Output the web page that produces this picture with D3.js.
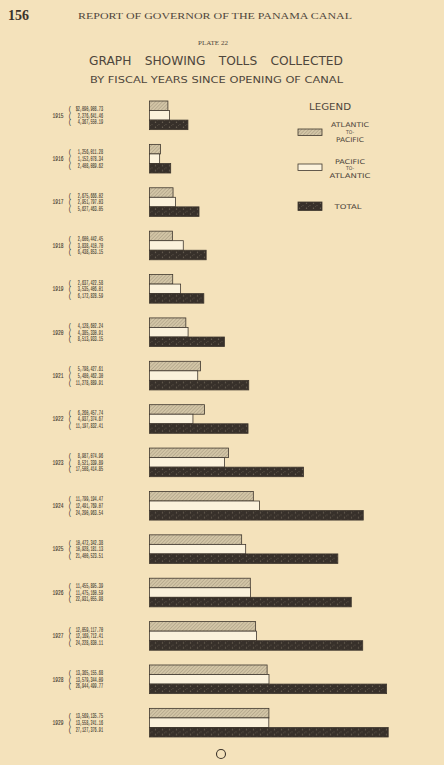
<html>
<head>
  <title>Tolls collected</title>
  <style>
    body { margin: 0; background: #f4e2bb; }
    svg { display: block; }
  </style>
</head>
<body>
<script src="https://cdn.jsdelivr.net/npm/d3@7/dist/d3.min.js"></script>
<script>
var years = [1915, 1916, 1917, 1918, 1919, 1920, 1921, 1922, 1923, 1924, 1925, 1926, 1927, 1928, 1929]
var atlanticToPacific = [2090908.73, 1256011.28, 2675666.02, 2600442.45, 2637422.58, 4128602.24, 5798427.61, 6260457.74, 8987074.96, 11799194.47, 10472342.38, 11455895.39, 12059117.70, 13365155.68, 13569135.75]
var pacificToAtlantic = [2276641.46, 1152078.34, 2951797.03, 3838410.70, 3535406.01, 4385330.91, 5480462.30, 4937374.67, 8521339.89, 12491769.07, 10928181.13, 11475160.59, 12169712.41, 13579344.09, 13558241.16]
var total = [4367550.19, 2408089.62, 5627463.05, 6438853.15, 6172828.59, 8513933.15, 11278889.91, 11197832.41, 17508414.85, 24290963.54, 21400523.51, 22931055.98, 24228830.11, 26944499.77, 27127376.91]
var seriesKeys = ['atl', 'pac', 'tot']
var legendLabels = [['ATLANTIC', 'TO-', 'PACIFIC'], ['PACIFIC', 'TO-', 'ATLANTIC'], ['TOTAL']]

var width = 444
var height = 765

var svg = d3.select('body').append('svg')
  .attr('width', width)
  .attr('height', height)

// paper
svg.append('rect').attr('width', width).attr('height', height).attr('fill', '#f4e2bb')

var defs = svg.append('defs')
var hatch = defs.append('pattern')
  .attr('id', 'hatch').attr('patternUnits', 'userSpaceOnUse')
  .attr('width', 2.5).attr('height', 2.5)
  .attr('patternTransform', 'rotate(45)')
hatch.append('rect').attr('width', 2.5).attr('height', 2.5).attr('fill', '#d2c5a6')
hatch.append('line').attr('x1', 0).attr('y1', 0).attr('x2', 0).attr('y2', 2.5)
  .attr('stroke', '#9e917a').attr('stroke-width', 0.9)

var dark = defs.append('pattern')
  .attr('id', 'dark').attr('patternUnits', 'userSpaceOnUse')
  .attr('width', 7).attr('height', 5)
dark.append('rect').attr('width', 7).attr('height', 5).attr('fill', '#37302a')
dark.append('circle').attr('cx', 1.5).attr('cy', 1.2).attr('r', 0.7).attr('fill', '#6e6456')
dark.append('circle').attr('cx', 5).attr('cy', 3.6).attr('r', 0.6).attr('fill', '#5f564a')
dark.append('circle').attr('cx', 3.4).attr('cy', 4.4).attr('r', 0.4).attr('fill', '#786e5f')

var fills = { atl: 'url(#hatch)', pac: '#fbf2dc', tot: 'url(#dark)' }

// header
svg.append('text').attr('x', 8).attr('y', 20)
  .attr('font-family', 'Liberation Serif').attr('font-weight', 'bold')
  .attr('font-size', 14).attr('fill', '#3c342b').text('156')
svg.append('text').attr('x', 78).attr('y', 19)
  .attr('font-family', 'Liberation Serif').attr('font-size', 9)
  .attr('textLength', 274).attr('lengthAdjust', 'spacingAndGlyphs')
  .attr('fill', '#4f463b').text('REPORT OF GOVERNOR OF THE PANAMA CANAL')
svg.append('text').attr('x', 213).attr('y', 45).attr('text-anchor', 'middle')
  .attr('font-family', 'Liberation Serif').attr('font-size', 7)
  .attr('textLength', 30).attr('lengthAdjust', 'spacingAndGlyphs')
  .attr('fill', '#4f463b').text('PLATE 22')
svg.append('text').attr('x', 89).attr('y', 65)
  .attr('font-family', 'DejaVu Sans').attr('font-size', 13)
  .attr('textLength', 254).attr('lengthAdjust', 'spacingAndGlyphs')
  .attr('fill', '#4e463c').attr('word-spacing', 10).text('GRAPH   SHOWING   TOLLS   COLLECTED')
svg.append('text').attr('x', 90).attr('y', 83)
  .attr('font-family', 'DejaVu Sans').attr('font-size', 8)
  .attr('textLength', 253).attr('lengthAdjust', 'spacingAndGlyphs')
  .attr('fill', '#4e463c').text('BY  FISCAL  YEARS  SINCE  OPENING  OF  CANAL')

// scales
var x = d3.scaleLinear().domain([0, 30000000]).range([149.5, 149.5 + 8.8 * 30])
var y = d3.scaleBand().domain(years).range([101, 737]).paddingInner(0.34).paddingOuter(0).align(0)
var yInner = d3.scaleBand().domain(seriesKeys).range([0, y.bandwidth()])

var rows = years.map(function (yr, i) {
  return { year: yr, atl: atlanticToPacific[i], pac: pacificToAtlantic[i], tot: total[i] }
})

var fmt = d3.format(',.2f')

var group = svg.selectAll('g.year').data(rows).enter().append('g')
  .attr('class', 'year')
  .attr('transform', function (d) { return 'translate(0,' + y(d.year) + ')' })

group.selectAll('rect').data(function (d) {
  return seriesKeys.map(function (k) { return { key: k, value: d[k] } })
}).enter().append('rect')
  .attr('x', x(0))
  .attr('y', function (d) { return yInner(d.key) })
  .attr('width', function (d) { return x(d.value) - x(0) })
  .attr('height', yInner.bandwidth())
  .attr('fill', function (d) { return fills[d.key] })
  .attr('stroke', '#3f372e')
  .attr('stroke-width', 0.8)

// value labels, typewritten
var mid = y.bandwidth() / 2
var lineGap = 6.6
var labelColor = '#40382e'
group.append('text')
  .attr('x', 58).attr('y', mid + 2.3)
  .attr('text-anchor', 'middle')
  .attr('font-family', 'Liberation Mono').attr('font-size', 6.5)
  .attr('textLength', 11).attr('lengthAdjust', 'spacingAndGlyphs')
  .attr('fill', labelColor).attr('stroke', labelColor).attr('stroke-width', 0.12)
  .text(function (d) { return d.year })

group.selectAll('text.val').data(function (d, i) {
  return seriesKeys.map(function (k, j) {
    return { j: j, label: (i === 0 && j === 0 ? '$' : '') + fmt(d[k]) }
  })
}).enter().append('text')
  .attr('class', 'val')
  .attr('x', 103)
  .attr('y', function (d) { return mid + (d.j - 1) * lineGap + 2.3 })
  .attr('text-anchor', 'end')
  .attr('font-family', 'Liberation Mono').attr('font-size', 6.5)
  .attr('textLength', function (d) { return d.label.length * 2.1 })
  .attr('lengthAdjust', 'spacingAndGlyphs')
  .attr('fill', labelColor).attr('stroke', labelColor).attr('stroke-width', 0.12)
  .text(function (d) { return d.label })

group.selectAll('text.br').data([0, 1, 2]).enter().append('text')
  .attr('class', 'br')
  .attr('x', 70)
  .attr('y', function (j) { return mid + (j - 1) * lineGap + 2.3 })
  .attr('text-anchor', 'middle')
  .attr('font-family', 'Liberation Mono').attr('font-size', 6.5)
  .attr('fill', labelColor)
  .text('(')

// legend
svg.append('text').attr('x', 309).attr('y', 109.5)
  .attr('font-family', 'DejaVu Sans').attr('font-size', 9)
  .attr('textLength', 42).attr('lengthAdjust', 'spacingAndGlyphs')
  .attr('fill', '#4e463c').text('LEGEND')

var legendY = [129, 164, 202]
var legendTextY = [[-2.2, 5, 12.8], [-0.5, 5.5, 14], [7]]
var legendTextW = [[38, 8, 28], [30, 8, 41], [27]]
var legendTextX = [350, 350, 348]
var leg = svg.selectAll('g.leg').data(seriesKeys).enter().append('g')
  .attr('class', 'leg')
  .attr('transform', function (d, i) { return 'translate(298,' + legendY[i] + ')' })
leg.append('rect')
  .attr('width', 24).attr('height', function (d, i) { return i === 2 ? 8.5 : 6.5 })
  .attr('fill', function (d) { return fills[d] })
  .attr('stroke', '#3f372e').attr('stroke-width', 0.8)
leg.each(function (d, i) {
  d3.select(this).selectAll('text').data(legendLabels[i]).enter().append('text')
    .attr('x', legendTextX[i] - 298)
    .attr('y', function (t, k) { return legendTextY[i][k] })
    .attr('text-anchor', 'middle')
    .attr('font-family', 'DejaVu Sans')
    .attr('font-size', function (t) { return t === 'TO-' ? 5 : 6.5 })
    .attr('textLength', function (t, k) { return legendTextW[i][k] })
    .attr('lengthAdjust', 'spacingAndGlyphs')
    .attr('fill', '#4e463c')
    .text(function (t) { return t })
})

// folio mark at the bottom
svg.append('circle').attr('cx', 221).attr('cy', 754).attr('r', 4.5)
  .attr('fill', 'none').attr('stroke', '#3c342b').attr('stroke-width', 1.1)
</script>
</body>
</html>
